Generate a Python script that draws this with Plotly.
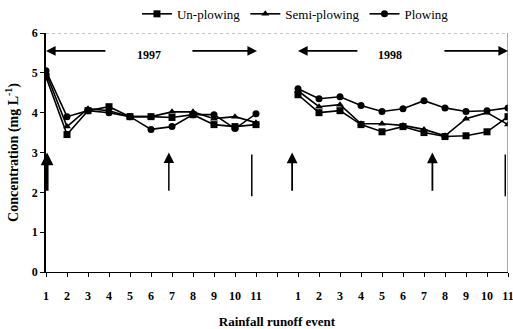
import plotly.graph_objects as go

events = [str(i) for i in range(1, 12)]
un_1997 = [4.9, 3.45, 4.05, 4.15, 3.9, 3.9, 3.88, 3.95, 3.7, 3.65, 3.7]
semi_1997 = [5.0, 3.65, 4.1, 4.05, 3.9, 3.9, 4.02, 4.02, 3.85, 3.9, 3.75]
plow_1997 = [5.05, 3.9, 4.05, 4.0, 3.9, 3.58, 3.65, 3.95, 3.95, 3.6, 3.97]
un_1998 = [4.45, 4.0, 4.05, 3.7, 3.52, 3.65, 3.5, 3.4, 3.42, 3.52, 3.9]
semi_1998 = [4.55, 4.15, 4.2, 3.72, 3.72, 3.68, 3.58, 3.42, 3.85, 4.0, 3.7]
plow_1998 = [4.6, 4.35, 4.4, 4.18, 4.03, 4.1, 4.3, 4.12, 4.03, 4.05, 4.12]
series_names = ["Un-plowing", "Semi-plowing", "Plowing"]
tick_text = events + [" "] + events
y_ticks = [0, 1, 2, 3, 4, 5, 6]

# positions: 1997 events at 0..10, gap at 11, 1998 events at 12..22
xpos = list(range(23))
FONT = "Liberation Serif"

def join(a, b):
    return a + [None] + b

fig = go.Figure()
symbols = ["square", "triangle-up", "circle"]
data = [(un_1997, un_1998), (semi_1997, semi_1998), (plow_1997, plow_1998)]
for name, sym, (a, b) in zip(series_names, symbols, data):
    fig.add_trace(go.Scatter(
        x=xpos, y=join(a, b), name=name, mode="lines+markers",
        line=dict(color="black", width=1.6),
        marker=dict(symbol=sym, size=7, color="black"),
        connectgaps=False,
    ))

ann = []
# year double arrows
for (x0, xl, xr, x1, xt, label) in [(0, 2.9, 6.9, 10.05, 4.9, "1997"), (12, 14.9, 18.9, 22, 16.4, "1998")]:
    ann.append(dict(x=x0, y=5.55, ax=xl, ay=5.55, xref="x", yref="y", axref="x", ayref="y",
                    showarrow=True, arrowhead=2, arrowsize=1.2, arrowwidth=1.6, arrowcolor="black", text=""))
    ann.append(dict(x=x1, y=5.55, ax=xr, ay=5.55, xref="x", yref="y", axref="x", ayref="y",
                    showarrow=True, arrowhead=2, arrowsize=1.2, arrowwidth=1.6, arrowcolor="black", text=""))
    ann.append(dict(x=xt, y=5.45, xref="x", yref="y", text="<b>" + label + "</b>", showarrow=False,
                    font=dict(family=FONT, size=12, color="black")))

# vertical arrows
for (xv, w, s) in [(0.05, 3, 0.85), (5.85, 1.5, 1.4), (11.72, 1.8, 1.2), (18.4, 1.8, 1.2)]:
    ann.append(dict(x=xv, y=3.0, ax=xv, ay=2.0, xref="x", yref="y", axref="x", ayref="y",
                    showarrow=True, arrowhead=2, arrowsize=s, arrowwidth=w,
                    arrowcolor="black", text=""))

shapes = []
for xv in [9.8, 21.87]:
    shapes.append(dict(type="line", x0=xv, x1=xv, y0=1.9, y1=2.95, xref="x", yref="y",
                       line=dict(color="black", width=1.5)))
# frame: top dashed faint, right solid
shapes.append(dict(type="line", x0=0, x1=22, y0=6, y1=6, xref="x", yref="y",
                   line=dict(color="#888888", width=1, dash="dot")))
shapes.append(dict(type="line", x0=22, x1=22, y0=0, y1=6, xref="x", yref="y",
                   line=dict(color="#555555", width=1)))

fig.update_layout(
    width=513, height=329,
    margin=dict(l=46, r=5, t=33, b=57, autoexpand=False),
    paper_bgcolor="white", plot_bgcolor="white",
    font=dict(family=FONT, color="black", size=12),
    showlegend=True,
    legend=dict(orientation="h", x=0.54, xanchor="center", y=1.08, yanchor="middle",
                font=dict(family=FONT, size=13, color="black"), itemwidth=30,
                bgcolor="rgba(0,0,0,0)", tracegroupgap=0),
    annotations=ann, shapes=shapes,
    xaxis=dict(range=[0, 22], tickmode="array", tickvals=xpos,
               ticktext=["<b>%s</b>" % t if t.strip() else " " for t in tick_text],
               ticks="outside", ticklen=4, tickcolor="black", showgrid=False, zeroline=False,
               showline=True, linecolor="black", linewidth=1, automargin=False,
               ticklabeloverflow="allow", ticklabelstandoff=9,
               tickfont=dict(family=FONT, size=12),
               title=dict(text="<b>Rainfall runoff event</b>", font=dict(family=FONT, size=13), standoff=16)),
    yaxis=dict(range=[0, 6], tickmode="array", tickvals=y_ticks, ticktext=["<b>%d</b>" % v for v in y_ticks],
               ticks="outside", ticklen=4, tickcolor="black", showgrid=False, zeroline=False,
               showline=True, linecolor="black", linewidth=1.5, automargin=False,
               tickfont=dict(family=FONT, size=12),
               title=dict(text="<b>Concentration (mg L<sup>-1</sup>)</b>", font=dict(family=FONT, size=14), standoff=10)),
)

fig.write_html("out.html")
